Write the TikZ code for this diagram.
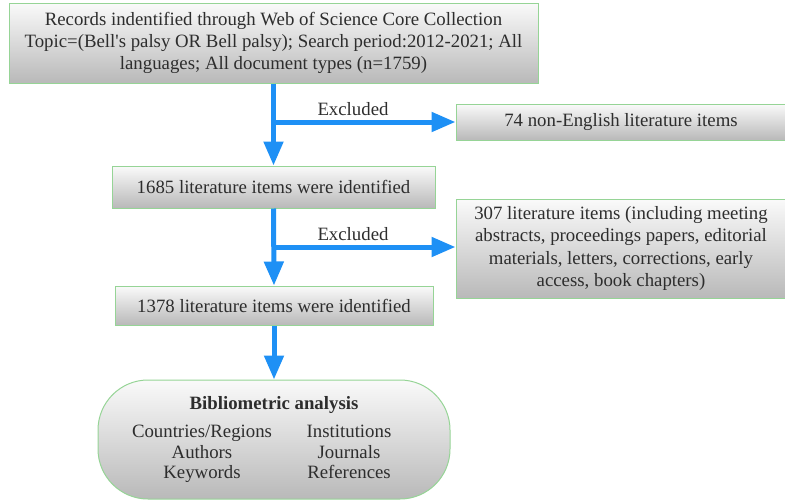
\documentclass[tikz,border=0pt]{standalone}
\usepackage{fontspec}
\setmainfont{Liberation Serif}
\usetikzlibrary{arrows.meta}
\definecolor{flowblue}{RGB}{30,144,245}
\definecolor{boxgreen}{RGB}{150,212,150}
\definecolor{txtgray}{RGB}{45,45,45}
\begin{document}
\begin{tikzpicture}[x=1pt,y=-1pt]
			\tikzstyle{stage}=[rectangle,draw=boxgreen,line width=1pt,top color=gray!4,bottom color=gray!55,inner sep=0pt,align=center,text=txtgray,font=\fontsize{18.8}{22.3}\selectfont]
			\tikzstyle{label}=[inner sep=0pt,anchor=base,text=txtgray,font=\fontsize{18.8}{22.3}\selectfont]
			\tikzstyle{flow}=[draw=flowblue,line width=5pt,-{Triangle[length=24pt,width=19pt]}]
				\useasboundingbox (0,0) rectangle (785,501);
				\node[stage,minimum width=529pt,minimum height=80pt](records) at (273.5,43){Records indentified through Web of Science Core Collection\\Topic=(Bell\textquotesingle s palsy OR Bell palsy); Search period:2012-2021; All\\languages; All document types (n=1759)};
				\node[stage,minimum width=330pt,minimum height=36pt](nonenglish) at (621,122){74 non-English literature items};
				\node[stage,minimum width=323pt,minimum height=42pt](first) at (273.5,187){1685 literature items were identified};
				\node[stage,minimum width=330pt,minimum height=99pt](other) at (621,248.5){307 literature items (including meeting\\abstracts, proceedings papers, editorial\\materials, letters, corrections, early\\access, book chapters)};
				\node[stage,minimum width=318pt,minimum height=39pt](second) at (274,305.5){1378 literature items were identified};
				\node[stage,rounded corners=50pt,minimum width=352pt,minimum height=119pt](analysis) at (274,439.5){};
				\node[label,font=\fontsize{18.8}{22.3}\selectfont\bfseries](title) at (274,409){Bibliometric analysis};
				\node[label](countries) at (202,437){Countries/Regions};
				\node[label](authors) at (202,458){Authors};
				\node[label](keywords) at (202,478){Keywords};
				\node[label](institutions) at (349,437){Institutions};
				\node[label](journals) at (349,458){Journals};
				\node[label](references) at (349,478){References};
				\coordinate(split1) at (274,122);
				\coordinate(split2) at (274,247);
				\node[label](excl1) at (353,115){Excluded};
				\node[label](excl2) at (353,240){Excluded};
				\draw[flow] (records.south) -- (first.north);
				\draw[flow] (first.south) -- (second.north);
				\draw[flow] (second.south) -- (analysis.north);
				\draw[flow] ([xshift=-2.5pt]split1) -- (nonenglish.west);
				\draw[flow] ([xshift=-2.5pt]split2) -- (split2 -| other.west);
			\end{tikzpicture}
\end{document}
